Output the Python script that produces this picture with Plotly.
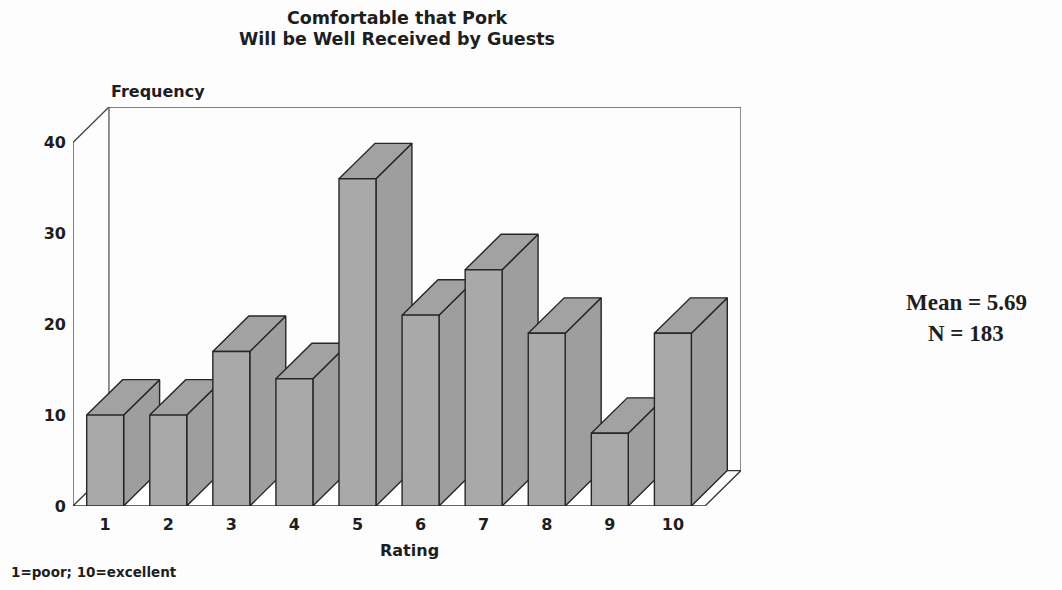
import plotly.graph_objects as go

# ---------------- data ----------------
RATINGS = [1, 2, 3, 4, 5, 6, 7, 8, 9, 10]
FREQUENCY = [10, 10, 17, 14, 36, 21, 26, 19, 8, 19]
Y_TICKS = [0, 10, 20, 30, 40]
TITLE_LINES = ["Comfortable that Pork", "Will be Well Received by Guests"]
Y_LABEL = "Frequency"
X_LABEL = "Rating"
FOOTNOTE = "1=poor; 10=excellent"
STATS = ["Mean = 5.69", "N = 183"]

# ---------------- layout constants ----------------
W, H = 1062, 590
ML, MR, MT, MB = 73, 321, 107, 84
BAR_HALF = 0.293      # half bar width (category units)
DX = 0.57             # depth offset in x (category units)
DY = 3.9              # depth offset in y (frequency units)
Y_TOP = 40
X0, X1 = 0.49, 10.51  # front floor extent

FONT = "DejaVu Sans"
INK = "#1e1e1e"
FRONT = "#a9a9a9"
TOP = "#a2a2a2"
SIDE = "#9e9e9e"
EDGE = "#262626"

fig = go.Figure()

def poly(xs, ys, fill, lw=1.4, color=EDGE):
    fig.add_trace(go.Scatter(
        x=xs, y=ys, mode="lines", fill="toself" if fill else None,
        fillcolor=fill, line=dict(color=color, width=lw),
        hoverinfo="skip", showlegend=False))

def line(xs, ys, lw=1.3, color="#3a3a3a"):
    fig.add_trace(go.Scatter(x=xs, y=ys, mode="lines",
                             line=dict(color=color, width=lw),
                             hoverinfo="skip", showlegend=False))

# back wall outline
line([X0 + DX, X0 + DX, X1 + DX, X1 + DX],
     [DY, Y_TOP + DY, Y_TOP + DY, DY], color="#555555")
# left wall edges
line([X0, X0, X0 + DX], [0, Y_TOP, Y_TOP + DY], color="#444444")
# floor
poly([X0, X1, X1 + DX, X0 + DX, X0], [0, 0, DY, DY, 0], "#ffffff",
     lw=1.3, color="#333333")

# bars (left to right so that each bar covers the previous side face)
for k, v in zip(RATINGS, FREQUENCY):
    xl, xr = k - BAR_HALF, k + BAR_HALF
    # side face
    poly([xr, xr + DX, xr + DX, xr, xr], [0, DY, v + DY, v, 0], SIDE)
    # top face
    poly([xl, xr, xr + DX, xl + DX, xl], [v, v, v + DY, v + DY, v], TOP)
    # front face
    poly([xl, xr, xr, xl, xl], [0, 0, v, v, 0], FRONT)

# ---------------- annotations ----------------
PW = W - ML - MR
PH = H - MT - MB

def px(x):
    return (x - ML) / PW

def py(y):
    return (H - MB - y) / PH

ann = []
def text(t, x, y, size, xa="center", ya="middle", family=FONT, weight="bold"):
    ann.append(dict(text=t, x=px(x), y=py(y), xref="paper", yref="paper",
                    xanchor=xa, yanchor=ya, showarrow=False,
                    font=dict(family=family, size=size, color=INK, weight=weight)))

text(TITLE_LINES[0], 397, 18, 17.5)
text(TITLE_LINES[1], 397, 39, 17.5)
text(Y_LABEL, 109, 91, 16, xa="left")
text(X_LABEL, 409, 550, 16)
text(FOOTNOTE, 9, 572, 13.5, xa="left")
text(STATS[0], 966, 302, 23, family="Liberation Serif")
text(STATS[1], 966, 333, 23, family="Liberation Serif")

fig.update_layout(
    width=W, height=H,
    margin=dict(l=ML, r=MR, t=MT, b=MB, pad=0),
    paper_bgcolor="#fdfdfd", plot_bgcolor="rgba(0,0,0,0)",
    showlegend=False,
    annotations=ann,
    xaxis=dict(range=[X0, X1 + DX], tickvals=RATINGS,
               ticktext=[str(r) for r in RATINGS],
               showgrid=False, zeroline=False, showline=False,
               ticks="", ticklabelstandoff=7,
               tickfont=dict(family=FONT, size=16, color=INK, weight="bold")),
    yaxis=dict(range=[0, Y_TOP + DY], tickvals=Y_TICKS,
               ticktext=[str(t) for t in Y_TICKS],
               showgrid=False, zeroline=False, showline=False,
               ticks="", ticklabelstandoff=6,
               tickfont=dict(family=FONT, size=16, color=INK, weight="bold")),
)

fig.write_html("out.html")
